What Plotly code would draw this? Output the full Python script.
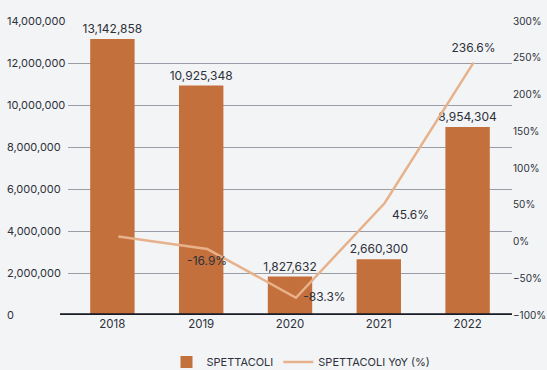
import plotly.graph_objects as go

# Yearly figures for SPETTACOLI and their year-over-year change
years = ["2018", "2019", "2020", "2021", "2022"]
spettacoli = [13142858, 10925348, 1827632, 2660300, 8954304]
yoy_pct = [0.0, -16.9, -83.3, 45.6, 236.6]
yoy_labels = ["", "-16.9%", "-83.3%", "45.6%", "236.6%"]
yoy_label_pos = ["top center", "bottom center", "middle right", "bottom right", "top center"]

BAR = "#c4703c"
LINE = "#e7b28b"
BG = "#f3f4f6"
GRID = "#9a9ca6"
TXT = "#2d313a"
FONT = "Inter"

fig = go.Figure()

fig.add_trace(go.Bar(
    x=years, y=spettacoli, name="SPETTACOLI",
    marker=dict(color=BAR, line=dict(width=0)),
    text=[f"{v:,}" for v in spettacoli], textposition="outside",
    constraintext="none",
    textfont=dict(family=FONT, size=12, color=TXT),
    cliponaxis=False,
))

fig.add_trace(go.Scatter(
    x=years, y=yoy_pct, name="SPETTACOLI YoY (%)",
    mode="lines+markers+text", line=dict(color=LINE, width=2.5),
    marker=dict(size=10, color="rgba(0,0,0,0)", line=dict(width=0)),
    text=yoy_labels, textposition=yoy_label_pos,
    textfont=dict(family=FONT, size=12, color=TXT),
    xaxis="x2", yaxis="y3", cliponaxis=False,
))

# invisible carrier so the right-hand percentage axis is drawn
fig.add_trace(go.Scatter(
    x=years, y=yoy_pct, yaxis="y2", mode="lines",
    line=dict(width=0), showlegend=False, hoverinfo="skip", opacity=0,
))

dx = 0.067   # slight horizontal offset of the YoY line
dy = 6.8     # slight vertical offset of the YoY line (in % units)
x0_dom = 0.1225  # plot area starts right of the left-aligned tick labels

fig.update_layout(
    width=547, height=370,
    margin=dict(l=6, r=35, t=21, b=55, autoexpand=False),
    paper_bgcolor=BG, plot_bgcolor=BG,
    font=dict(family=FONT, size=11, color=TXT),
    bargap=0.5,
    showlegend=True,
    legend=dict(
        orientation="h", x=0.583, xanchor="center", y=-0.16, yanchor="middle",
        font=dict(family=FONT, size=11, color=TXT), bgcolor="rgba(0,0,0,0)",
        itemwidth=30, tracegroupgap=0,
    ),
    xaxis=dict(
        type="category", showgrid=False, showline=False, ticks="",
        domain=[x0_dom, 1],
        tickfont=dict(family=FONT, size=11.5, color=TXT), range=[-0.5, 4.5],
    ),
    xaxis2=dict(
        type="category", overlaying="x", visible=False,
        range=[-0.5 - dx, 4.5 - dx],
    ),
    yaxis=dict(
        range=[0, 14000000], dtick=2000000, tickformat=",",
        anchor="free", position=0, side="right", ticklabelstandoff=0,
        showgrid=True, gridcolor=GRID, gridwidth=1.3, zeroline=False,
        showline=False, ticks="", tickfont=dict(family=FONT, size=11, color=TXT),
    ),
    yaxis2=dict(
        overlaying="y", side="right", anchor="x", range=[-100, 300], dtick=50,
        ticksuffix="%", showgrid=False, zeroline=False, showline=False,
        ticks="", ticklabelstandoff=0,
        tickfont=dict(family=FONT, size=10, color=TXT),
    ),
    yaxis3=dict(
        overlaying="y", range=[-100 - dy, 300 - dy], visible=False,
    ),
    shapes=[dict(
        type="line", xref="paper", yref="y", x0=0.1067, x1=1.0, y0=0, y1=0,
        line=dict(color="#161b26", width=3.5), layer="above",
    )],
)

fig.write_html("out.html")
